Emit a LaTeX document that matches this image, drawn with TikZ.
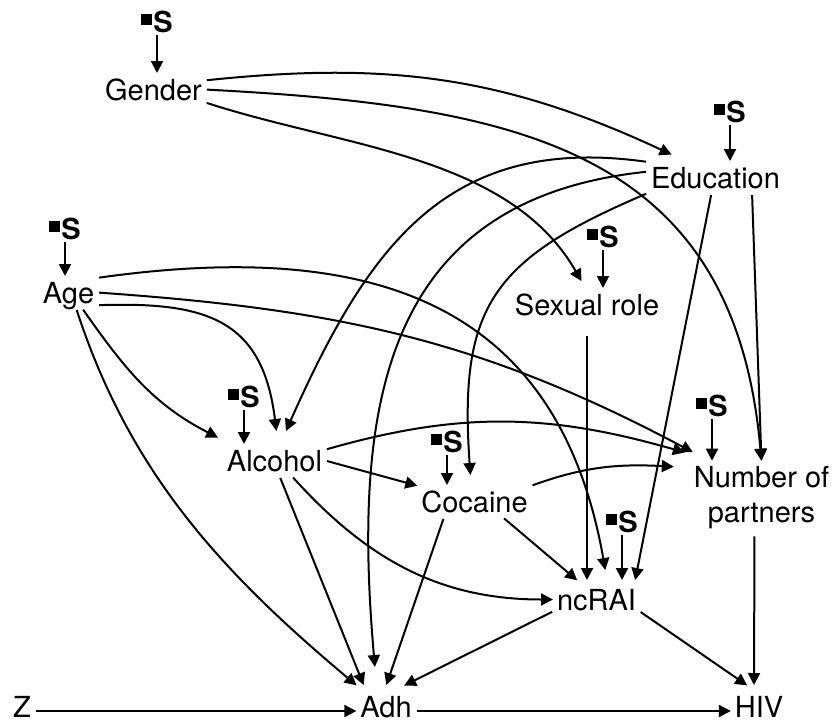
\documentclass[tikz,border=0pt]{standalone}
\usepackage{fontspec}
\setmainfont{TeX Gyre Heros}
\usetikzlibrary{arrows.meta}
\newcommand{\VarFont}{\fontsize{29}{35}\selectfont}
\newcommand{\Sbox}{\rule[7pt]{11pt}{11pt}\hspace{1pt}S}
\tikzset{Var/.style={
    font=\VarFont,
    inner sep=0pt,
    outer xsep=3pt, outer ysep=5pt,
    },
  Lbl/.style={Var, text height=21pt, text depth=0pt, anchor=base},
  Smark/.style={font=\VarFont\bfseries, inner sep=0pt, outer sep=1pt, anchor=base},
}

\begin{document}
\begin{tikzpicture}[x=1pt, y=1pt, line width=2pt,
    arr/.style={-{Triangle[length=12pt,width=12pt]}, shorten >=1pt, shorten <=2pt},
]
\useasboundingbox (0,0) rectangle (836,-724);

% variables
\node[Lbl] (Gen) at (153.5,-100) {Gender};
\node[Lbl] (Edu) at (715.5,-188) {Education};
\node[Lbl] (Sex) at (587,-315) {Sexual role};
\node[Lbl] (Age) at (68.5,-303) {Age};
\node[Lbl] (Alc) at (274.5,-471) {Alcohol};
\node[Lbl] (Coc) at (474.5,-512) {Cocaine};
\node[Lbl, outer ysep=8pt] (ncR) at (596.5,-610) {ncRAI};
\node[Var, align=center] (NoP) at (761.5,-498) {Number of\\partners};
\node[Lbl] (Z) at (22,-717) {Z};
\node[Lbl, outer ysep=10pt] (Adh) at (386,-717) {Adh};
\node[Lbl, outer ysep=10pt] (HIV) at (759,-717) {HIV};

% selection nodes
\node[Smark] (sGen) at (157,-32) {\Sbox};
\draw[arr] (sGen) -- (sGen |- Gen.north);
\node[Smark] (sEdu) at (730,-122) {\Sbox};
\draw[arr] (sEdu) -- (sEdu |- Edu.north);
\node[Smark] (sSex) at (603,-247) {\Sbox};
\draw[arr] (sSex) -- (sSex |- Sex.north);
\node[Smark] (sAge) at (65,-239) {\Sbox};
\draw[arr] (sAge) -- (sAge |- Age.north);
\node[Smark] (sAlc) at (244,-407) {\Sbox};
\draw[arr] (sAlc) -- (sAlc |- Alc.north);
\node[Smark] (sCoc) at (447,-452) {\Sbox};
\draw[arr] (sCoc) -- (sCoc |- Coc.north);
\node[Smark] (sNcr) at (622,-532) {\Sbox};
\draw[arr] (sNcr) -- (sNcr |- ncR.north);
\node[Smark] (sNoP) at (712,-416) {\Sbox};
\draw[arr] (sNoP) -- (sNoP |- NoP.north);

% edges
\draw[arr] (Gen.10) to[out=6,in=155] ([xshift=-43pt,yshift=7pt]Edu.north);
\draw[arr] (Gen.east) to[out=-3,in=95,looseness=1.2] (NoP.north);
\draw[arr] (Gen.-14) to[out=-18,in=120,looseness=0.9] ([xshift=-5pt,yshift=7pt]Sex.north);
\draw[arr] (Edu.north west) to[out=172,in=66,looseness=1.15] ([xshift=11pt,yshift=13pt]Alc.north);
\draw[arr] (Edu.175) to[out=186,in=95,looseness=1.2] ([xshift=-11pt,yshift=18pt]Adh.north);
\draw[arr] (Edu.south west) to[out=203,in=94,looseness=1.3] ([xshift=-4pt,yshift=10pt]Coc.north);
\draw[arr] ([xshift=-4pt]Edu.south) -- ([xshift=-4pt]ncR.north east);
\draw[arr] (Edu.-23) -- (NoP.north);
\draw[arr] (Age.27) to[out=8,in=100,looseness=1.2] ([xshift=9pt,yshift=10pt]ncR.north);
\draw[arr] (Age.east) to[out=-4,in=152] ([xshift=3pt,yshift=9pt]NoP.north west);
\draw[arr] (Age.-24) to[out=2,in=97,looseness=1.3] ([xshift=2pt,yshift=13pt]Alc.north);
\draw[arr] (Age.-49) to[out=-55,in=153] ([xshift=-5pt,yshift=7pt]Alc.north west);
\draw[arr] (Age.-64) to[out=-72,in=140,looseness=0.95] (Adh.north west);
\draw[arr] (Alc.12) to[out=16,in=164] ([xshift=-5pt,yshift=9pt]NoP.north west);
\draw[arr] (Alc.east) -- (Coc.north west);
\draw[arr] ([xshift=5pt]Alc.south) -- (Adh.137);
\draw[arr] (Alc.-42) to[out=-48,in=180] (ncR.west);
\draw[arr] (Coc.north east) to[out=20,in=177] ([xshift=-16pt,yshift=-5pt]NoP.north west);
\draw[arr] (Coc.-29) -- (ncR.135);
\draw[arr] (Coc.-153) -- (Adh.north);
\draw[arr] ([yshift=-14pt]Sex.south) -- ([xshift=-9.5pt]ncR.north);
\draw[arr] (ncR.195) -- (Adh.50);
\draw[arr] (ncR.-15) -- ([xshift=-11pt]HIV.north);
\draw[arr] ([xshift=-7pt]NoP.south) -- ([xshift=-5pt]HIV.north);
\draw[arr] ([yshift=-4.5pt]Z.east) -- ([yshift=-4.5pt]Adh.west);
\draw[arr] ([yshift=-4.5pt]Adh.east) -- ([yshift=-4.5pt]HIV.west);
\end{tikzpicture}
\end{document}
